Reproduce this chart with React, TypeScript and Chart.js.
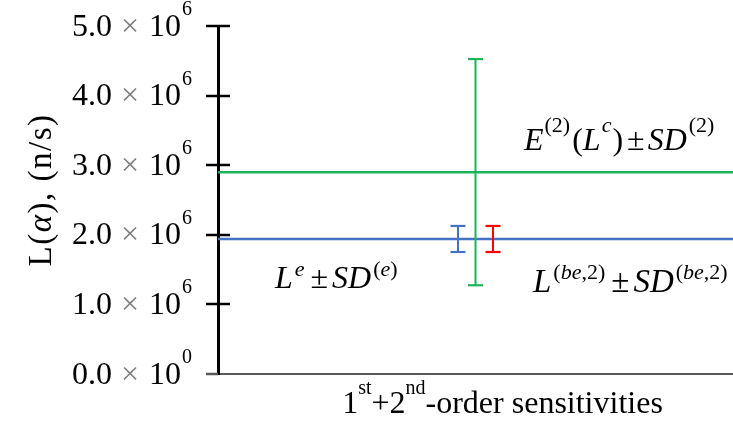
import React, { useEffect, useRef } from 'react';
import { Chart, registerables } from 'chart.js';

Chart.register(...registerables);

// ---- data ----
const categories = ['1st+2nd-order sensitivities'];
const yTickValues = [0, 1e6, 2e6, 3e6, 4e6, 5e6];
const yTickMantissa = ['0.0', '1.0', '2.0', '3.0', '4.0', '5.0'];
const yTickExponent = ['0', '6', '6', '6', '6', '6'];
// L^e ± SD^(e) (measured, blue)
const measuredMean = [1.94e6];
const measuredSD = [0.187e6];
// E^(2)(L^c) ± SD^(2) (computed, green)
const computedMean = [2.9e6];
const computedSD = [1.625e6];
// L^(be,2) ± SD^(be,2) (best estimate, red)
const bestMean = [1.94e6];
const bestSD = [0.187e6];

// ---- styles ----
const GREEN = '#1DB35A';
const BLUE = '#4472C4';
const RED = '#FF0000';
const FONT = '"Liberation Serif", "Times New Roman", serif';
const BAR_OFFSET = 0.034;

type Run = { t: string; it?: boolean; sup?: boolean; col?: string; dx?: number; raise?: number; size?: number };

function drawRuns(ctx: CanvasRenderingContext2D, runs: Run[], x: number, y: number, size: number, supRaise: number, align: 'left' | 'center' = 'left') {
  const fontFor = (r: Run) => {
    const s = r.size ?? (r.sup ? Math.round(size * 0.68) : size);
    return `${r.it ? 'italic ' : ''}${s}px ${FONT}`;
  };
  const widths = runs.map((r) => {
    ctx.font = fontFor(r);
    return ctx.measureText(r.t).width + (r.dx ?? 0);
  });
  const total = widths.reduce((a, b) => a + b, 0);
  let cx = align === 'left' ? x : x - total / 2;
  ctx.textAlign = 'left';
  ctx.textBaseline = 'alphabetic';
  runs.forEach((r, i) => {
    ctx.font = fontFor(r);
    ctx.fillStyle = r.col ?? '#000';
    const yy = r.sup ? y - (r.raise ?? supRaise) : y;
    ctx.fillText(r.t, cx + (r.dx ?? 0), yy);
    cx += widths[i];
  });
}

const overlayPlugin = {
  id: 'overlay',
  afterDraw(chart: any) {
    const ctx: CanvasRenderingContext2D = chart.ctx;
    const ys = chart.scales.y;
    const xs = chart.scales.x;
    const area = chart.chartArea;
    const axisX = area.left;
    ctx.save();
    // tick marks crossing the y axis
    yTickValues.forEach((v) => {
      const py = Math.round(ys.getPixelForValue(v));
      ctx.strokeStyle = v === 0 ? '#595959' : '#000';
      ctx.lineWidth = 2.5;
      ctx.beginPath();
      ctx.moveTo(axisX - 12, py);
      ctx.lineTo(axisX + (v === 0 ? 0 : 12), py);
      ctx.stroke();
    });
    // tick labels
    yTickValues.forEach((v, i) => {
      const py = ys.getPixelForValue(v);
      const base = py + 9.5;
      ctx.textBaseline = 'alphabetic';
      ctx.textAlign = 'left';
      ctx.font = `32px ${FONT}`;
      ctx.fillStyle = '#000';
      ctx.fillText(yTickMantissa[i], axisX - 146, base);
      ctx.fillStyle = '#7f7f7f';
      ctx.textAlign = 'center';
      ctx.fillText('\u00d7', axisX - 88, base);
      ctx.fillStyle = '#000';
      ctx.textAlign = 'left';
      ctx.fillText('10', axisX - 69, base);
      ctx.font = `20px ${FONT}`;
      ctx.fillText(yTickExponent[i], axisX - 36, base - 20.5);
    });
    // y axis title
    ctx.save();
    ctx.translate(51, (area.top + area.bottom) / 2 - 10);
    ctx.rotate(-Math.PI / 2);
    (ctx as any).letterSpacing = '1.5px';
    drawRuns(ctx, [{ t: 'L(' }, { t: '\u03b1', it: true }, { t: '), (n/s)' }], 0, 0, 33, 0, 'center');
    (ctx as any).letterSpacing = '0px';
    ctx.restore();
    // x category label
    const cxp = xs.getPixelForValue(0) + 27;
    drawRuns(
      ctx,
      [{ t: '1' }, { t: 'st', sup: true, size: 20 }, { t: '+2' }, { t: 'nd', sup: true, size: 20 }, { t: '-order sensitivities' }],
      cxp,
      413,
      32,
      19,
      'center'
    );
    // annotations
    const gY = ys.getPixelForValue(computedMean[0]);
    const bY = ys.getPixelForValue(measuredMean[0]);
    drawRuns(
      ctx,
      [
        { t: 'E', it: true },
        { t: '(2)', sup: true, dx: 1 },
        { t: '(', dx: 2 },
        { t: 'L', it: true },
        { t: 'c', it: true, sup: true, dx: 1 },
        { t: ')', dx: 1 },
        { t: '\u00b1', dx: 4 },
        { t: 'SD', it: true, dx: 3 },
        { t: '(2)', sup: true, dx: 2 },
      ],
      524,
      gY - 22,
      32,
      18
    );
    drawRuns(
      ctx,
      [
        { t: 'L', it: true },
        { t: 'e', it: true, sup: true, dx: 2 },
        { t: '\u00b1', dx: 6 },
        { t: 'SD', it: true, dx: 4 },
        { t: '(', sup: true, dx: 2 },
        { t: 'e', it: true, sup: true },
        { t: ')', sup: true },
      ],
      275,
      bY + 49,
      32,
      12
    );
    drawRuns(
      ctx,
      [
        { t: 'L', it: true },
        { t: '(', sup: true, dx: 2 },
        { t: 'be', it: true, sup: true },
        { t: ',2)', sup: true },
        { t: '\u00b1', dx: 6 },
        { t: 'SD', it: true, dx: 4 },
        { t: '(', sup: true, dx: 2 },
        { t: 'be', it: true, sup: true },
        { t: ',2)', sup: true },
      ],
      533,
      bY + 53,
      33,
      13
    );
    ctx.restore();
  },
};

function errorBar(mean: number, sd: number, x: number, color: string) {
  return {
    data: [
      { x, y: mean - sd },
      { x, y: mean + sd },
    ],
    showLine: true,
    borderColor: color,
    borderWidth: 2,
    pointStyle: 'line',
    pointRadius: 7.5,
    pointHoverRadius: 7.5,
    pointBorderColor: color,
    pointBorderWidth: 2.2,
    pointBackgroundColor: color,
    order: 0,
    clip: false,
  };
}

function hLine(value: number, color: string) {
  return {
    data: [
      { x: -0.5, y: value },
      { x: 0.5, y: value },
    ],
    showLine: true,
    borderColor: color,
    borderWidth: 2.5,
    pointRadius: 0,
    order: 1,
  };
}

export default function App() {
  const ref = useRef<HTMLCanvasElement | null>(null);
  useEffect(() => {
    if (!ref.current) return;
    const chart = new Chart(ref.current, {
      type: 'scatter',
      data: {
        labels: categories,
        datasets: [
          hLine(computedMean[0], GREEN) as any,
          hLine(measuredMean[0], BLUE) as any,
          errorBar(measuredMean[0], measuredSD[0], -BAR_OFFSET, BLUE) as any,
          errorBar(computedMean[0], computedSD[0], 0, GREEN) as any,
          errorBar(bestMean[0], bestSD[0], BAR_OFFSET, RED) as any,
        ],
      },
      options: {
        animation: false,
        responsive: true,
        maintainAspectRatio: false,
        layout: { autoPadding: false, padding: { top: 26, left: 0, right: 0, bottom: 0 } },
        plugins: { legend: { display: false }, tooltip: { enabled: false } },
        events: [],
        scales: {
          x: {
            type: 'linear',
            min: -0.5,
            max: 0.5,
            grid: { display: false },
            ticks: { display: false },
            border: { display: true, color: '#595959', width: 2 },
            afterFit: (s: any) => {
              s.height = 47;
            },
          },
          y: {
            type: 'linear',
            min: 0,
            max: 5e6,
            grid: { display: false },
            ticks: { display: false, stepSize: 1e6 },
            border: { display: true, color: '#000', width: 3 },
            afterFit: (s: any) => {
              s.width = 218;
            },
          },
        },
      },
      plugins: [overlayPlugin],
    });
    return () => chart.destroy();
  }, []);
  return (
    <div style={{ position: 'fixed', left: 0, top: 0, width: 733, height: 421, background: '#fff' }}>
      <canvas ref={ref} />
    </div>
  );
}
